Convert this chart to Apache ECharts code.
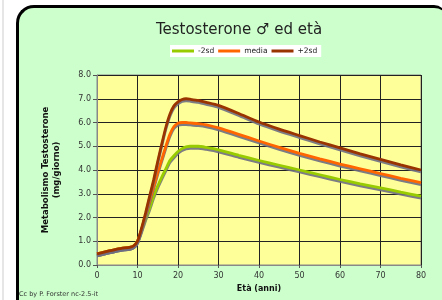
<!DOCTYPE html>
<html>
<head>
<meta charset="utf-8">
<script src="https://cdn.jsdelivr.net/npm/echarts@6/dist/echarts.min.js"></script>
<style>
  html, body { margin: 0; padding: 0; background: #fff; }
  body { width: 442px; height: 300px; overflow: hidden; position: relative; }
  .edge { position: absolute; left: 2px; top: 0; width: 2px; height: 300px; background: #e6e6e6; }
  .panel {
    position: absolute; left: 16px; top: 5px; width: 430px; height: 310px;
    background: #ccffcc; border-top: 3px solid #000; border-left: 3px solid #000;
    border-radius: 18px 12px 0 0; box-sizing: border-box;
  }
  #chart { position: absolute; left: 0; top: 0; width: 442px; height: 300px; }
</style>
</head>
<body>
<div class="edge"></div>
<div class="panel"></div>
<div id="chart"></div>
<script>
// età (anni)
const ages = [0, 2, 4, 6, 8, 9, 10, 11, 12, 13, 14, 15, 16, 17, 18, 19, 20, 21, 22, 23, 25, 27, 30, 35, 40, 45, 50, 55, 60, 65, 70, 75, 80];
// -2sd
const lowData = [0.47, 0.55, 0.63, 0.7, 0.74, 0.8, 1.0, 1.45, 1.95, 2.4, 2.9, 3.33, 3.7, 4.05, 4.4, 4.6, 4.78, 4.9, 4.97, 5.0, 5.0, 4.95, 4.85, 4.62, 4.4, 4.2, 4.0, 3.8, 3.6, 3.42, 3.25, 3.07, 2.9];
// media
const midData = [0.47, 0.55, 0.63, 0.7, 0.74, 0.8, 1.0, 1.5, 2.1, 2.7, 3.3, 3.9, 4.45, 5.0, 5.5, 5.83, 5.97, 6.0, 6.0, 5.98, 5.95, 5.9, 5.77, 5.5, 5.22, 4.95, 4.7, 4.47, 4.25, 4.05, 3.85, 3.65, 3.47];
// +2sd
const highData = [0.47, 0.55, 0.63, 0.7, 0.74, 0.8, 1.0, 1.55, 2.2, 2.9, 3.6, 4.37, 5.1, 5.8, 6.35, 6.7, 6.87, 6.97, 7.0, 6.98, 6.93, 6.85, 6.72, 6.38, 6.02, 5.72, 5.45, 5.18, 4.93, 4.68, 4.45, 4.22, 4.0];

const seriesNames = ["-2sd", "media", "+2sd"];
const seriesColors = ["#99cc00", "#ff6600", "#993300"];

const font = "DejaVu Sans, Verdana, sans-serif";

const chart = echarts.init(document.getElementById("chart"));

function makeSeries(name, color, data) {
  return {
    name: name,
    type: "line",
    smooth: 0.2,
    showSymbol: false,
    data: ages.map((a, i) => [a, data[i]]),
    lineStyle: {
      color: color,
      width: 2.8,
      shadowColor: "rgba(110,110,130,0.9)",
      shadowOffsetY: 2,
      shadowBlur: 0,
    },
    itemStyle: { color: color },
  };
}

const options = {
  animation: false,
  textStyle: { fontFamily: font },
  title: {
    text: "Testosterone ♂ ed età",
    left: 234,
    textAlign: "center",
    top: 18,
    textStyle: { fontSize: 15, fontWeight: "normal", color: "#222", fontFamily: font },
  },
  legend: {
    top: 45,
    left: 170,
    itemWidth: 22,
    itemHeight: 3,
    itemGap: 4,
    padding: [2, 4, 2, 2],
    backgroundColor: "#fff",
    icon: "rect",
    textStyle: { fontSize: 7.5, color: "#222", fontFamily: font, padding: [0, 0, 0, -1] },
    data: seriesNames,
  },
  grid: {
    left: 97,
    right: 21,
    top: 75,
    bottom: 35,
    show: true,
    backgroundColor: "#ffff99",
    borderColor: "#888",
    borderWidth: 1,
  },
  xAxis: {
    type: "value",
    min: 0,
    max: 80,
    interval: 10,
    name: "Età (anni)",
    nameLocation: "middle",
    nameGap: 20,
    nameTextStyle: { fontSize: 8, fontWeight: "bold", color: "#111", fontFamily: font },
    axisLine: { show: true, lineStyle: { color: "#888" } },
    axisTick: { show: true, length: 3, lineStyle: { color: "#555" } },
    axisLabel: { fontSize: 8, color: "#333", margin: 7, fontFamily: font },
    splitLine: { show: true, lineStyle: { color: "#222", width: 1 } },
  },
  yAxis: {
    type: "value",
    min: 0,
    max: 8,
    interval: 1,
    name: "Metabolismo Testosterone\n(mg/giorno)",
    nameLocation: "middle",
    nameRotate: 90,
    nameGap: 35,
    nameTextStyle: { fontSize: 8.5, fontWeight: "bold", color: "#111", lineHeight: 11, fontFamily: font },
    axisLine: { show: true, lineStyle: { color: "#888" } },
    axisTick: { show: true, length: 4, lineStyle: { color: "#555" } },
    axisLabel: {
      fontSize: 8,
      color: "#333",
      margin: 6,
      fontFamily: font,
      formatter: (v) => v.toFixed(1),
    },
    splitLine: { show: true, lineStyle: { color: "#222", width: 1 } },
  },
  graphic: [
    {
      type: "text",
      left: 19,
      top: 291,
      style: { text: "Cc by P. Forster nc-2.5-it", fontSize: 6.5, fill: "#333", fontFamily: font },
    },
  ],
  series: [
    makeSeries(seriesNames[0], seriesColors[0], lowData),
    makeSeries(seriesNames[1], seriesColors[1], midData),
    makeSeries(seriesNames[2], seriesColors[2], highData),
  ],
};

chart.setOption(options);
</script>
</body>
</html>
